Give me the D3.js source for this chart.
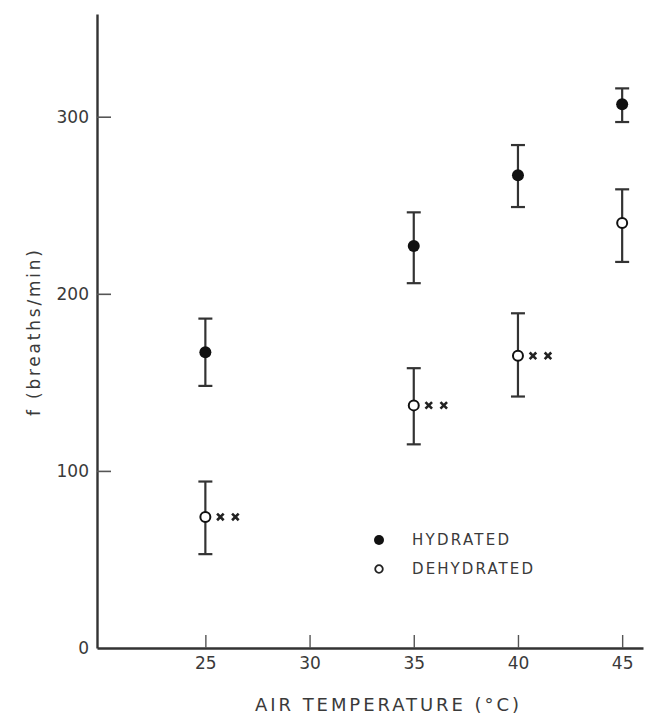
<!DOCTYPE html>
<html>
<head>
<meta charset="utf-8">
<script src="https://cdn.jsdelivr.net/npm/d3@7"></script>
<style>
  html, body { margin: 0; padding: 0; background: #fff; }
  svg { display: block; }
  text { font-family: "DejaVu Sans", sans-serif; fill: #3a3a3a; }
</style>
</head>
<body>
<script>
// ---- data ----
const temperatures   = [25, 35, 40, 45];
const hydratedMean   = [167, 227, 267, 307];
const hydratedHigh   = [186, 246, 284, 316];
const hydratedLow    = [148, 206, 249, 297];
const dehydratedMean = [74, 137, 165, 240];
const dehydratedHigh = [94, 158, 189, 259];
const dehydratedLow  = [53, 115, 142, 218];
const significance   = ["**", "**", "**", ""];
const xTicks = [25, 30, 35, 40, 45];
const yTicks = [0, 100, 200, 300];
const legendLabels = ["HYDRATED", "DEHYDRATED"];

const W = 646, H = 718;
const svg = d3.select("body").append("svg").attr("width", W).attr("height", H);

const x = d3.scaleLinear().domain([19.8, 46.0]).range([97, 643]);
const y = d3.scaleLinear().domain([0, 358]).range([648, 14]);
const ink = "#333";

// axes
const yAxis = d3.axisLeft(y).tickValues(yTicks).tickSizeInner(-14).tickSizeOuter(0).tickPadding(8);
const gy = svg.append("g").attr("transform", `translate(${x.range()[0]},0)`).call(yAxis);
gy.select(".domain").attr("stroke", ink).attr("stroke-width", 2.4);
gy.selectAll(".tick line").attr("stroke", "#555").attr("stroke-width", 1.6)
  .filter(d => d === 0).remove();
gy.selectAll(".tick text").attr("font-size", 17).attr("fill", "#3a3a3a")
  .attr("font-family", "DejaVu Sans, sans-serif");

const xAxis = d3.axisBottom(x).tickValues(xTicks).tickSizeInner(-13).tickSizeOuter(0).tickPadding(9);
const gx = svg.append("g").attr("transform", `translate(0,${y(0)})`).call(xAxis);
gx.select(".domain").attr("stroke", ink).attr("stroke-width", 2.4);
gx.selectAll(".tick line").attr("stroke", "#555").attr("stroke-width", 1.4);
gx.selectAll(".tick text").attr("font-size", 17).attr("fill", "#3a3a3a")
  .attr("font-family", "DejaVu Sans, sans-serif");

// axis titles
svg.append("text")
  .attr("x", 387).attr("y", 711)
  .attr("text-anchor", "middle")
  .attr("font-size", 18)
  .attr("textLength", 264).attr("lengthAdjust", "spacing")
  .text("AIR TEMPERATURE (°C)");

svg.append("text")
  .attr("transform", "translate(40,333) rotate(-90)")
  .attr("text-anchor", "middle")
  .attr("font-size", 17)
  .attr("textLength", 166).attr("lengthAdjust", "spacing")
  .text("f (breaths/min)");

// series
const series = [
  { mean: hydratedMean, hi: hydratedHigh, lo: hydratedLow, filled: true, sig: null },
  { mean: dehydratedMean, hi: dehydratedHigh, lo: dehydratedLow, filled: false, sig: significance }
];

series.forEach(s => {
  const g = svg.append("g");
  temperatures.forEach((t, i) => {
    const cx = x(t);
    g.append("line").attr("x1", cx).attr("x2", cx)
      .attr("y1", y(s.hi[i])).attr("y2", y(s.lo[i]))
      .attr("stroke", ink).attr("stroke-width", 2.2);
    [s.hi[i], s.lo[i]].forEach(v => {
      g.append("line").attr("x1", cx - 7).attr("x2", cx + 7)
        .attr("y1", y(v)).attr("y2", y(v))
        .attr("stroke", ink).attr("stroke-width", 2.2);
    });
    g.append("circle").attr("cx", cx).attr("cy", y(s.mean[i]))
      .attr("r", s.filled ? 6 : 5)
      .attr("fill", s.filled ? "#111" : "#fff")
      .attr("stroke", "#111").attr("stroke-width", s.filled ? 0 : 2);
    if (s.sig && s.sig[i]) {
      const n = s.sig[i].length;
      for (let k = 0; k < n; k++) {
        g.append("path")
          .attr("d", d3.symbol(d3.symbolX, 30)())
          .attr("transform", `translate(${cx + 15 + k * 15},${y(s.mean[i])})`)
          .attr("fill", "none").attr("stroke", "#222").attr("stroke-width", 2.6);
      }
    }
  });
});

// legend
const lg = svg.append("g").attr("transform", "translate(379,540)");
legendLabels.forEach((lab, i) => {
  const row = lg.append("g").attr("transform", `translate(0,${i * 29})`);
  row.append("circle").attr("r", i === 0 ? 5 : 3.8)
    .attr("fill", i === 0 ? "#111" : "#fff")
    .attr("stroke", "#222").attr("stroke-width", i === 0 ? 0 : 1.8);
  row.append("text").attr("x", 33).attr("y", 0).attr("dy", "0.36em")
    .attr("font-size", 15)
    .attr("textLength", i === 0 ? 97 : 121).attr("lengthAdjust", "spacing")
    .text(lab);
});
</script>
</body>
</html>
